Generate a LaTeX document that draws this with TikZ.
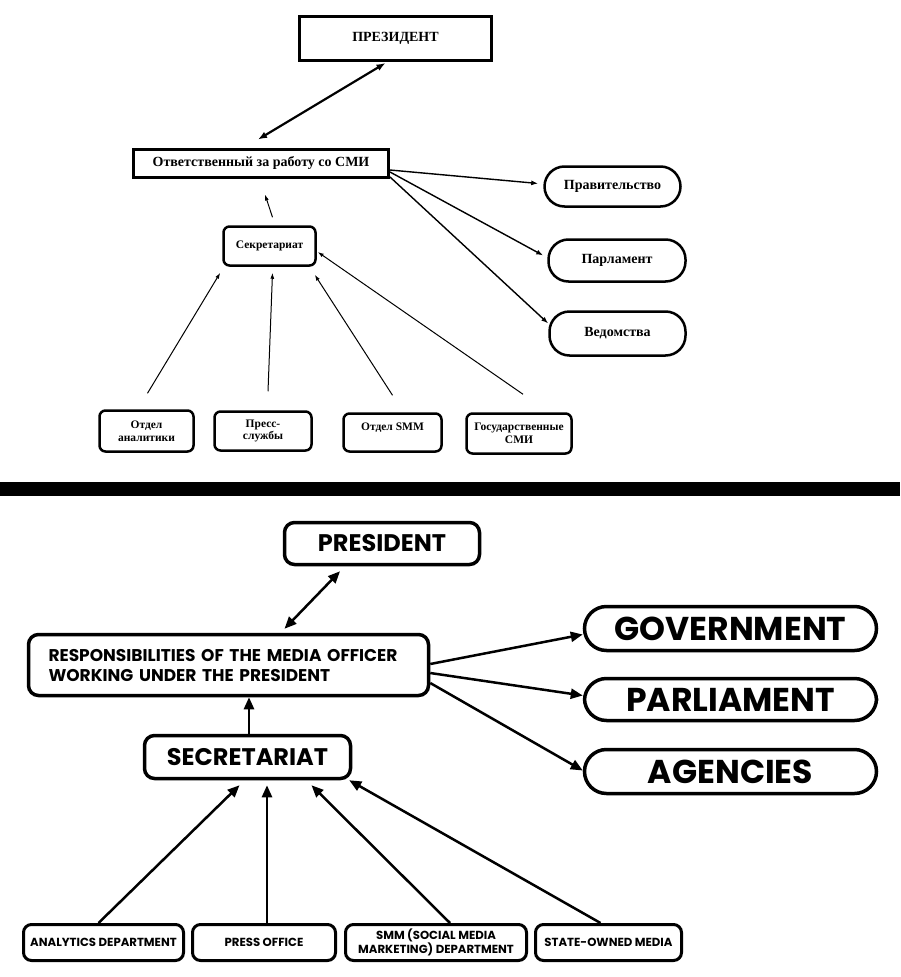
\documentclass[tikz,border=0pt]{standalone}
\usepackage{fontspec}
\setmainfont{Liberation Serif}
\newfontfamily\enfont{Poppins}
\usetikzlibrary{arrows.meta}
\tikzset{
  rubox/.style={draw, line width=3pt, inner sep=0pt, align=center, font=\bfseries\fontsize{14}{15}\selectfont},
  rupill/.style={rubox, line width=2.5pt, rounded corners=20pt},
  rusmall/.style={rubox, line width=2.5pt, rounded corners=6pt, font=\bfseries\fontsize{11.5}{12.5}\selectfont},
  ruthick/.style={line width=2.2pt, {Latex[length=9pt,width=7pt]}-{Latex[length=9pt,width=7pt]}},
  rumid/.style={line width=1.4pt, -{Latex[length=7pt,width=5pt]}},
  ruthin/.style={line width=1pt, -{Latex[length=6pt,width=4pt]}},
  enbox/.style={draw, line width=3.5pt, rounded corners=10pt, inner sep=0pt, align=center, font=\enfont\bfseries\fontsize{24}{28}\selectfont},
  enpill/.style={enbox, rounded corners=22pt, font=\enfont\bfseries\fontsize{33}{36}\selectfont},
  ensmall/.style={enbox, line width=3pt, rounded corners=8pt, font=\enfont\bfseries\fontsize{11.7}{14}\selectfont},
  enarrow/.style={line width=2.5pt, -{Triangle[length=12pt,width=10pt]}},
  endouble/.style={line width=2.5pt, {Triangle[length=12pt,width=10pt]}-{Triangle[length=12pt,width=10pt]}}
}
\begin{document}
\begin{tikzpicture}[x=1pt,y=-1pt]
\useasboundingbox (0,0) rectangle (900,977);

% scan
\node[rubox, minimum width=192pt, minimum height=44pt] (ruPres) at (395.5,38.5) {ПРЕЗИДЕНТ};
\node[rubox, minimum width=255pt, minimum height=28pt] (ruOtv) at (261,163) {Ответственный за работу со СМИ};
\node[rupill, minimum width=136pt, minimum height=40pt] (ruGov) at (612.5,186.5) {Правительство};
\node[rupill, minimum width=137pt, minimum height=42pt] (ruParl) at (617,260.5) {Парламент};
\node[rupill, minimum width=136pt, minimum height=44pt] (ruVed) at (617.5,333.5) {Ведомства};
\node[rusmall, minimum width=92pt, minimum height=39pt] (ruSec) at (269.5,246) {Секретариат};
\node[rusmall, minimum width=94pt, minimum height=41pt] (ruAn) at (146.5,431) {Отдел\\аналитики};
\node[rusmall, minimum width=97pt, minimum height=39pt] (ruPress) at (263,431) {Пресс-\\службы};
\node[rusmall, minimum width=98pt, minimum height=38pt] (ruSmm) at (392.5,432.5) {Отдел SMM\\\mbox{}};
\node[rusmall, minimum width=105pt, minimum height=40pt] (ruGos) at (519,433.5) {Государственные\\СМИ};

\draw[ruthick] ([xshift=-10pt,yshift=-1pt]ruPres.south) -- ([xshift=-3pt,yshift=8pt]ruOtv.north);
\draw[ruthin] ([xshift=3pt,yshift=8pt]ruSec.north) -- ([xshift=4pt,yshift=-16pt]ruOtv.south);
\draw[rumid] ([yshift=-7pt]ruOtv.east) -- ([xshift=-5pt,yshift=3pt]ruGov.west);
\draw[rumid] ([yshift=-9pt]ruOtv.east) -- ([xshift=-4pt,yshift=5pt]ruParl.west);
\draw[rumid] ([yshift=-14pt]ruOtv.east) -- ([yshift=10pt]ruVed.west);
\draw[ruthin] ([xshift=1pt,yshift=16pt]ruAn.north) -- ([xshift=-2pt,yshift=-6pt]ruSec.south west);
\draw[ruthin] ([xshift=5pt,yshift=19pt]ruPress.north) -- ([xshift=3pt,yshift=-6pt]ruSec.south);
\draw[ruthin] ([yshift=17pt]ruSmm.north) -- ([xshift=-2pt,yshift=-8pt]ruSec.south east);
\draw[ruthin] ([xshift=4pt,yshift=18pt]ruGos.north) -- ([xshift=1pt,yshift=-6pt]ruSec.east);

\fill (0,482) rectangle (900,496);

% english version
\node[enbox, minimum width=195pt, minimum height=42pt] (enPres) at (382,543.5) {PRESIDENT};
\node[enbox, minimum width=400pt, minimum height=61pt, align=left, text width=360pt, font=\enfont\bfseries\fontsize{17}{20}\selectfont] (enResp) at (228.5,665) {RESPONSIBILITIES OF THE MEDIA OFFICER\\WORKING UNDER THE PRESIDENT};
\node[enpill, minimum width=292pt, minimum height=44pt] (enGov) at (730.5,628.5) {GOVERNMENT};
\node[enpill, minimum width=292pt, minimum height=42pt] (enParl) at (730.5,699.5) {PARLIAMENT};
\node[enpill, minimum width=292pt, minimum height=44pt] (enAg) at (730.5,771.5) {AGENCIES};
\node[enbox, minimum width=206pt, minimum height=43pt] (enSec) at (247.5,757) {SECRETARIAT};
\node[ensmall, minimum width=160pt, minimum height=36pt] (enAn) at (103.5,942.5) {ANALYTICS DEPARTMENT};
\node[ensmall, minimum width=143pt, minimum height=36pt] (enPress) at (264,942.5) {PRESS OFFICE};
\node[ensmall, minimum width=181pt, minimum height=36pt] (enSmm) at (436,942.5) {SMM (SOCIAL MEDIA\\MARKETING) DEPARTMENT};
\node[ensmall, minimum width=146pt, minimum height=36pt] (enState) at (608.5,942.5) {STATE-OWNED MEDIA};

\draw[endouble] ([xshift=-42pt,yshift=-5pt]enPres.south) -- ([xshift=56pt,yshift=4pt]enResp.north);
\draw[enarrow] ([xshift=1.5pt]enSec.north) -- ([xshift=1.5pt]enSec.north |- enResp.south);
\draw[enarrow] ([yshift=1pt]enResp.east) -- ([yshift=-6pt]enGov.west);
\draw[enarrow] ([yshift=-8pt]enResp.east) -- ([yshift=4pt]enParl.west);
\draw[enarrow] ([yshift=-18pt]enResp.east) -- ([yshift=1pt]enAg.west);
\draw[enarrow] ([xshift=-5pt]enAn.north) -- ([xshift=-8pt,yshift=-5pt]enSec.south);
\draw[enarrow] ([xshift=3pt]enPress.north) -- ([xshift=19.5pt,yshift=-5pt]enSec.south);
\draw[enarrow] ([xshift=14pt]enSmm.north) -- ([xshift=64pt,yshift=-5pt]enSec.south);
\draw[enarrow] ([xshift=-8pt]enState.north) -- ([xshift=-3pt,yshift=0pt]enSec.south east);
\end{tikzpicture}
\end{document}
